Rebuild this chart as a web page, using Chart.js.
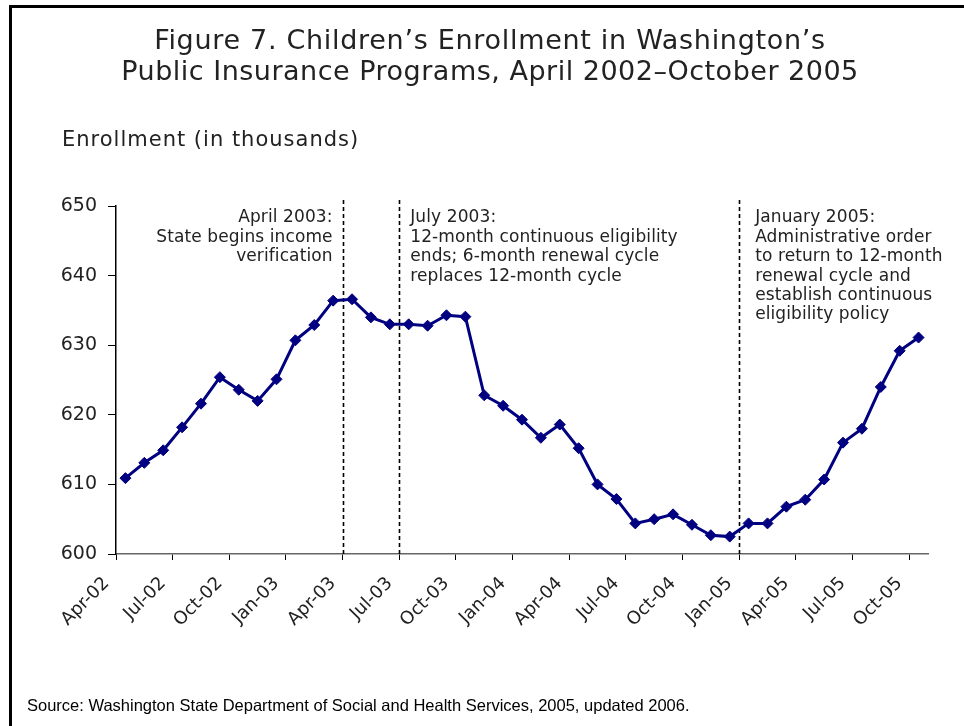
<!DOCTYPE html>
<html><head><meta charset="utf-8">
<script src="https://cdn.jsdelivr.net/npm/chart.js@4"></script>
<style>html,body{margin:0;padding:0;background:#fff;}#wrap{position:relative;width:964px;height:726px;}</style>
</head><body><div id="wrap"><canvas id="c" width="964" height="726"></canvas></div>
<script>
const categories = ['Apr-02','May-02','Jun-02','Jul-02','Aug-02','Sep-02','Oct-02','Nov-02','Dec-02',
  'Jan-03','Feb-03','Mar-03','Apr-03','May-03','Jun-03','Jul-03','Aug-03','Sep-03','Oct-03','Nov-03','Dec-03',
  'Jan-04','Feb-04','Mar-04','Apr-04','May-04','Jun-04','Jul-04','Aug-04','Sep-04','Oct-04','Nov-04','Dec-04',
  'Jan-05','Feb-05','Mar-05','Apr-05','May-05','Jun-05','Jul-05','Aug-05','Sep-05','Oct-05'];
const enrollment = [610.9,613.1,614.9,618.2,621.6,625.4,623.6,622.0,625.1,630.7,632.9,636.4,
  636.6,634.0,633.0,633.0,632.8,634.3,634.1,622.8,621.3,619.3,616.7,618.6,615.2,610.0,607.9,
  604.4,605.0,605.7,604.2,602.7,602.5,604.4,604.4,606.8,607.8,610.7,616.0,618.0,624.0,629.2,631.1];
const yTicks = [600,610,620,630,640,650];
const labelEvery = 3;
const eventIndex = [12, 15, 33];
const eventNotes = [
  ['April 2003:','State begins income','verification'],
  ['July 2003:','12-month continuous eligibility','ends; 6-month renewal cycle','replaces 12-month cycle'],
  ['January 2005:','Administrative order','to return to 12-month','renewal cycle and','establish continuous','eligibility policy']
];
const titleLines = ['Figure 7. Children\u2019s Enrollment in Washington\u2019s','Public Insurance Programs, April 2002\u2013October 2005'];
const yAxisTitle = 'Enrollment (in thousands)';
const sourceNote = 'Source: Washington State Department of Social and Health Services, 2005, updated 2006.';

const FONT = 'DejaVu Sans';
const noteStyle = [{align:'right', dx:-10},{align:'left', dx:11},{align:'left', dx:16}];

const decor = {
  id:'decor',
  beforeDatasetsDraw(chart){
    const ctx = chart.ctx, xs = chart.scales.x, ys = chart.scales.y;
    const half = (xs.getPixelForValue(1) - xs.getPixelForValue(0)) / 2;
    ctx.save();
    ctx.strokeStyle = '#000'; ctx.lineWidth = 1.6; ctx.setLineDash([4,3]);
    eventIndex.forEach(i => {
      const x = Math.round(xs.getPixelForValue(i) - half) + 0.5;
      ctx.beginPath(); ctx.moveTo(x, ys.top - 6); ctx.lineTo(x, ys.bottom); ctx.stroke();
    });
    ctx.restore();
  },
  afterDraw(chart){
    const ctx = chart.ctx, xs = chart.scales.x, ys = chart.scales.y;
    const half = (xs.getPixelForValue(1) - xs.getPixelForValue(0)) / 2;
    ctx.save();
    // frame
    ctx.fillStyle = '#000';
    ctx.fillRect(9, 5, 3, 721);
    ctx.fillRect(9, 5, 955, 3);
    // title
    ctx.fillStyle = '#222';
    ctx.textAlign = 'center'; ctx.textBaseline = 'middle';
    ctx.font = '27px "' + FONT + '"';
    ctx.letterSpacing = '0.7px';
    ctx.fillText(titleLines[0], 490, 42);
    ctx.letterSpacing = '0.5px';
    ctx.fillText(titleLines[1], 490, 73);
    ctx.textAlign = 'left';
    ctx.font = '21px "' + FONT + '"';
    ctx.letterSpacing = '1px';
    ctx.fillText(yAxisTitle, 62, 141);
    // notes
    ctx.font = '17px "' + FONT + '"';
    ctx.letterSpacing = '0.1px';
    ctx.fillStyle = '#222';
    eventIndex.forEach((i, n) => {
      const x = xs.getPixelForValue(i) - half + noteStyle[n].dx;
      ctx.textAlign = noteStyle[n].align;
      eventNotes[n].forEach((t, k) => ctx.fillText(t, x, 218 + k * 19.4));
    });
    // source
    ctx.letterSpacing = '0px';
    ctx.fillStyle = '#000';
    ctx.textAlign = 'left';
    ctx.font = '16.5px "Liberation Sans"';
    ctx.fillText(sourceNote, 27, 706);
    ctx.restore();
  }
};

new Chart(document.getElementById('c'), {
  type: 'line',
  data: {
    labels: categories,
    datasets: [{
      data: enrollment,
      borderColor: '#000080', borderWidth: 3,
      pointStyle: 'rectRot', pointRadius: 5.5, pointHoverRadius: 5.5,
      pointBackgroundColor: '#000080', pointBorderColor: '#000080', pointBorderWidth: 1,
      tension: 0, fill: false
    }]
  },
  options: {
    responsive: false, animation: false, devicePixelRatio: 1,
    layout: { padding: { left: 0, right: 36, top: 206, bottom: 72 } },
    plugins: { legend: { display: false }, tooltip: { enabled: false }, title: { display: false } },
    scales: {
      x: {
        type: 'category', offset: true,
        grid: { offset: true, drawOnChartArea: false, drawTicks: true, tickLength: 6, lineWidth: 1,
          color: c => (c.index !== undefined && c.index % labelEvery === 0) ? '#000' : 'rgba(0,0,0,0)' },
        border: { display: true, color: '#666', width: 1.5 },
        ticks: { autoSkip: false, maxRotation: 45, minRotation: 45, labelOffset: -19, padding: 13,
          callback: (v, i) => i % labelEvery === 0 ? categories[i] : '',
          font: { family: FONT, size: 18 }, color: '#222' },
        afterFit: s => { s.height = 100; }
      },
      y: {
        min: 600, max: 650,
        afterBuildTicks: s => { s.ticks = yTicks.map(v => ({ value: v })); },
        grid: { drawOnChartArea: false, drawTicks: true, tickLength: 8, color: '#000' },
        border: { display: true, color: '#000', width: 1.5 },
        ticks: { padding: 11, font: { family: FONT, size: 19 }, color: '#222' },
        afterFit: s => { s.width = 116; }
      }
    }
  },
  plugins: [decor]
});
</script></body></html>
